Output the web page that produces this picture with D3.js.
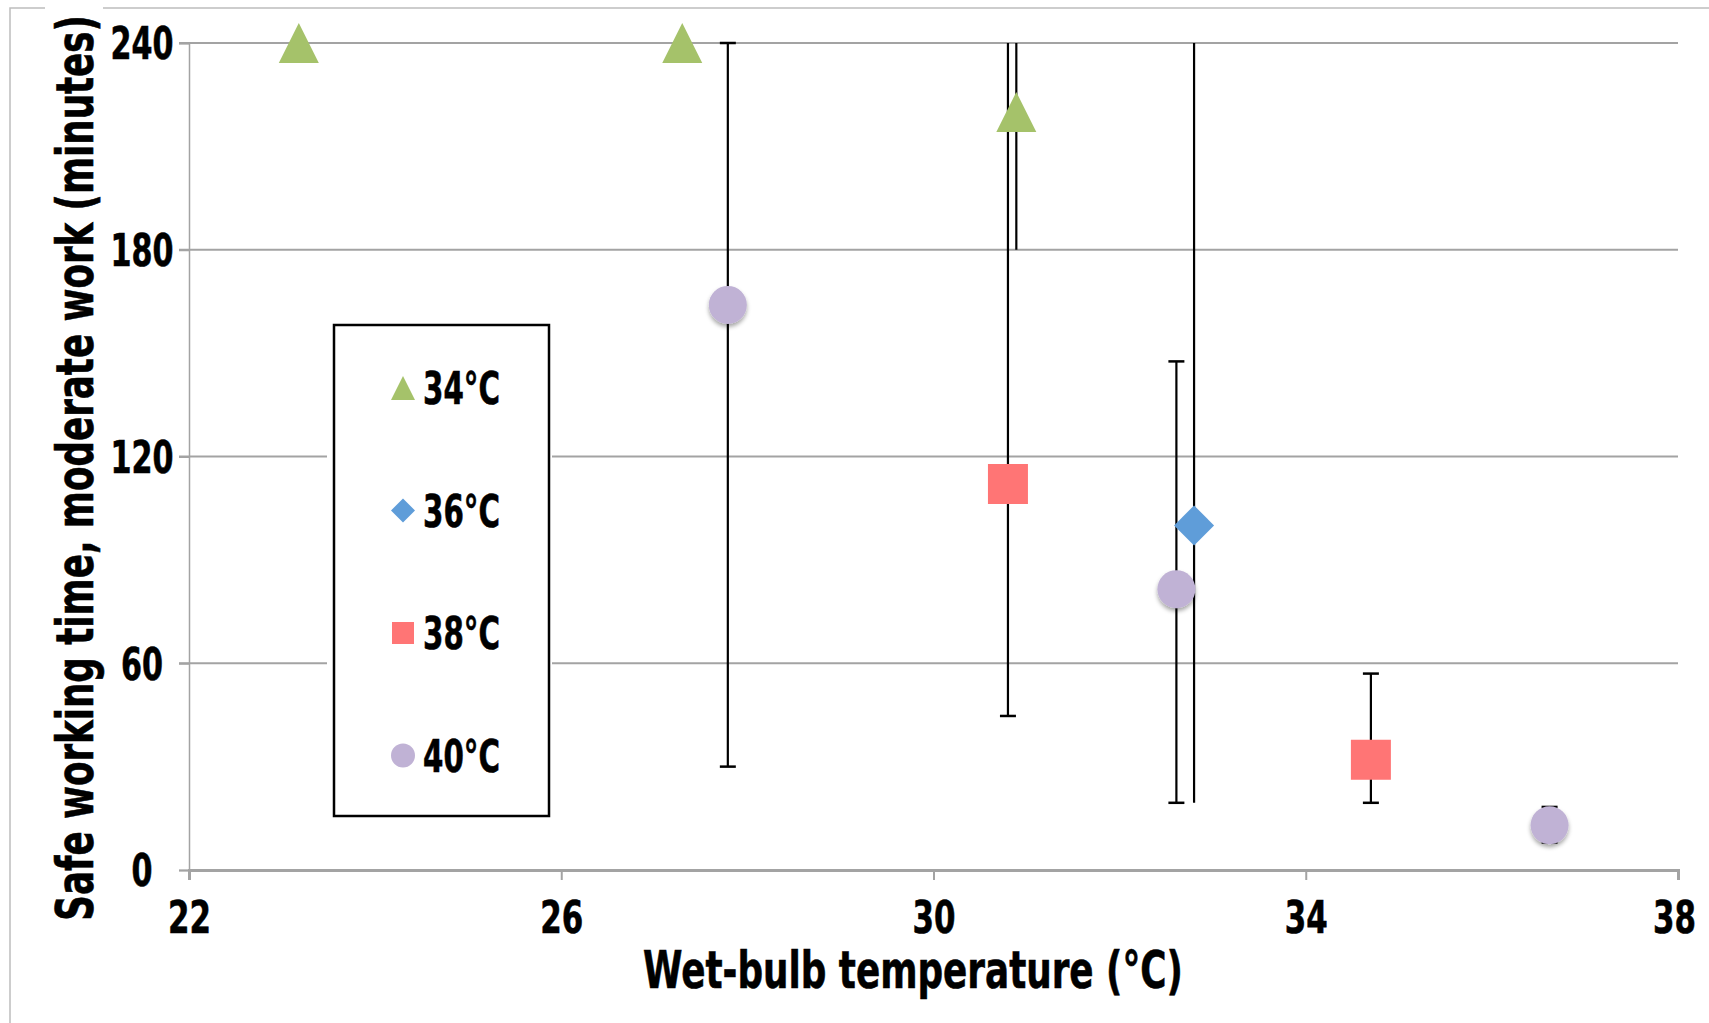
<!DOCTYPE html>
<html>
<head>
<meta charset="utf-8">
<script src="https://cdn.jsdelivr.net/npm/d3@7"></script>
<style>
  body { margin: 0; background: #fff; }
  text { font-family: "Liberation Sans Narrow", "DejaVu Sans Condensed", "Roboto", sans-serif; font-weight: bold; fill: #000; stroke: #000; stroke-width: 0.6px; }
</style>
</head>
<body>
<div id="container"></div>
<script>
// values
const xTicks = [22, 26, 30, 34, 38];
const yTicks = [0, 60, 120, 180, 240];
const seriesNames = ["34°C", "36°C", "38°C", "40°C"];

// wet-bulb temp, safe time, error bar low / high (null = none, >240 = clipped at top)
const wb34 = [23.18, 27.3, 30.89];
const safe34 = [240, 240, 220];
const low34 = [null, null, 180];
const high34 = [null, null, 250];
const capped34 = [false, false, false];

const wb36 = [32.8];
const safe36 = [100];
const low36 = [19.5];
const high36 = [260];
const capped36 = [false];

const wb38 = [30.8, 34.7];
const safe38 = [112, 32];
const low38 = [44.7, 19.5];
const high38 = [260, 57];
const capped38 = [true, true];

const wb40 = [27.79, 32.61, 36.62];
const safe40 = [164, 81.5, 13];
const low40 = [30, 19.5, 8];
const high40 = [240, 147.6, 18.3];
const capped40 = [true, true, true];

const width = 1709, height = 1023;
const margin = {left: 189, right: 1709 - 1678, top: 43, bottom: 1023 - 870};

const colors = ["#a5c26a", "#5f9dd9", "#ff7575", "#c0b2d5"];
const shapes = ["triangle", "diamond", "square", "circle"];

const series = [
  {wb: wb34, safe: safe34, low: low34, high: high34, capped: capped34},
  {wb: wb36, safe: safe36, low: low36, high: high36, capped: capped36},
  {wb: wb38, safe: safe38, low: low38, high: high38, capped: capped38},
  {wb: wb40, safe: safe40, low: low40, high: high40, capped: capped40}
].map((s, i) => s.wb.map((x, j) => ({
  x: x, y: s.safe[j], lo: s.low[j], hi: s.high[j], cap: s.capped[j], k: i
})));
const points = series.flat();

// squeeze a text horizontally so it is `target` px wide (the fonts here are wider than the original's)
function fit(sel, target, place) {
  sel.each(function(d, i) {
    const w = this.getComputedTextLength();
    const t = typeof target === "function" ? target(d, i) : target;
    const k = w > 0 ? t / w : 1;
    d3.select(this).attr("transform", `${place ? place(d, i) : ""} scale(${k},1)`);
  });
}

const svg = d3.select("#container").append("svg")
  .attr("width", width)
  .attr("height", height);

const defs = svg.append("defs");
defs.append("filter").attr("id", "shadow")
  .attr("x", "-50%").attr("y", "-50%").attr("width", "200%").attr("height", "200%")
  .append("feDropShadow")
  .attr("dx", 0).attr("dy", 3).attr("stdDeviation", 2)
  .attr("flood-color", "#000").attr("flood-opacity", 0.35);

/* outer chart border */
svg.append("path")
  .attr("d", `M10,${height} L10,8 L${width},8`)
  .attr("fill", "none")
  .attr("stroke", "#bdbdbd")
  .attr("stroke-width", 1.5);
svg.append("rect")
  .attr("x", 45).attr("y", 4).attr("width", 58).attr("height", 10)
  .attr("fill", "#fff");

/* SCALES */
const xScale = d3.scaleLinear()
  .domain([22, 38])
  .range([margin.left, width - margin.right]);

const yScale = d3.scaleLinear()
  .domain([0, 240])
  .range([height - margin.bottom, margin.top]);

/* gridlines */
svg.append("g")
  .selectAll("line")
  .data(yTicks.filter(d => d > 0))
  .join("line")
  .attr("x1", margin.left - 10)
  .attr("x2", width - margin.right)
  .attr("y1", d => yScale(d))
  .attr("y2", d => yScale(d))
  .attr("stroke", "#a3a3a3")
  .attr("stroke-width", 2);

/* Axes */
const yAxis = d3.axisLeft(yScale)
  .tickValues(yTicks)
  .tickSize(10)
  .tickFormat(d3.format("d"));

const gy = svg.append("g")
  .attr("transform", `translate(${margin.left},0)`)
  .call(yAxis);
gy.select(".domain").attr("stroke", "#a3a3a3").attr("stroke-width", 1.5);
gy.selectAll(".tick line").attr("stroke", "#a3a3a3").attr("stroke-width", 2);
gy.selectAll(".tick text")
  .attr("x", 0)
  .attr("y", 0)
  .attr("text-anchor", "middle")
  .attr("dy", "0.36em")
  .style("font-size", "44px")
  .call(fit, d => String(d).length * 21, () => `translate(${142 - margin.left},0)`);

const xAxis = d3.axisBottom(xScale)
  .tickValues(xTicks)
  .tickSize(10)
  .tickSizeOuter(10);

const gx = svg.append("g")
  .attr("transform", `translate(0,${height - margin.bottom})`)
  .call(xAxis);
gx.select(".domain").attr("stroke", "#a3a3a3").attr("stroke-width", 3);
gx.selectAll(".tick line").attr("stroke", "#a3a3a3").attr("stroke-width", 2);
gx.selectAll(".tick text")
  .attr("x", 0)
  .attr("y", 0)
  .attr("dy", "0.71em")
  .style("font-size", "44px")
  .call(fit, d => String(d).length * 21.5, d => `translate(${d === 38 ? -4 : 0},32)`);

/* error bars */
const clampY = v => yScale(Math.max(0, Math.min(240, v)));
const bars = svg.append("g")
  .selectAll("g")
  .data(points.filter(d => d.lo != null))
  .join("g");
bars.append("line")
  .attr("x1", d => xScale(d.x)).attr("x2", d => xScale(d.x))
  .attr("y1", d => clampY(d.hi)).attr("y2", d => clampY(d.lo))
  .attr("stroke", "#000").attr("stroke-width", 2.2);
bars.filter(d => d.cap && d.hi <= 240).append("line")
  .attr("x1", d => xScale(d.x) - 8).attr("x2", d => xScale(d.x) + 8)
  .attr("y1", d => yScale(d.hi)).attr("y2", d => yScale(d.hi))
  .attr("stroke", "#000").attr("stroke-width", 2.5);
bars.filter(d => d.cap && d.lo >= 0).append("line")
  .attr("x1", d => xScale(d.x) - 8).attr("x2", d => xScale(d.x) + 8)
  .attr("y1", d => yScale(d.lo)).attr("y2", d => yScale(d.lo))
  .attr("stroke", "#000").attr("stroke-width", 2.5);

/* markers */
function markerPath(shape, s) {
  const h = s / 2;
  if (shape === "triangle") return `M0,${-h}L${h},${h}L${-h},${h}Z`;
  if (shape === "diamond") return `M0,${-h}L${h},0L0,${h}L${-h},0Z`;
  if (shape === "square") return `M${-h},${-h}H${h}V${h}H${-h}Z`;
  return d3.arc()({innerRadius: 0, outerRadius: h, startAngle: 0, endAngle: 2 * Math.PI});
}

svg.append("g")
  .selectAll("path")
  .data(points)
  .join("path")
  .attr("transform", d => `translate(${xScale(d.x)},${yScale(d.y)})`)
  .attr("d", d => markerPath(shapes[d.k], shapes[d.k] === "circle" ? 38 : 40))
  .attr("fill", d => colors[d.k])
  .attr("filter", d => shapes[d.k] === "circle" ? "url(#shadow)" : null);

/* legend */
const legend = svg.append("g");
legend.append("rect")
  .attr("x", 327).attr("y", 318).attr("width", 225).attr("height", 505)
  .attr("fill", "#fff");
legend.append("rect")
  .attr("x", 334).attr("y", 325).attr("width", 215).attr("height", 491)
  .attr("fill", "#fff").attr("stroke", "#000").attr("stroke-width", 2.5);

const items = legend.selectAll("g.item")
  .data(seriesNames)
  .join("g")
  .attr("class", "item")
  .attr("transform", (d, i) => `translate(403,${388 + i * 122.5})`);
items.append("path")
  .attr("d", (d, i) => markerPath(shapes[i], shapes[i] === "square" ? 22 : 24))
  .attr("fill", (d, i) => colors[i]);
items.append("text")
  .style("font-size", "44px")
  .text(d => d)
  .call(fit, 77, () => "translate(20,16)");

/* axis titles */
svg.append("text")
  .attr("text-anchor", "middle")
  .style("font-size", "52px")
  .text("Wet-bulb temperature (°C)")
  .call(fit, 540, () => "translate(913,988)");

svg.append("text")
  .attr("text-anchor", "middle")
  .style("font-size", "51px")
  .text("Safe working time, moderate work (minutes)")
  .call(fit, 906, () => "translate(93,468) rotate(-90)");
</script>
</body>
</html>
